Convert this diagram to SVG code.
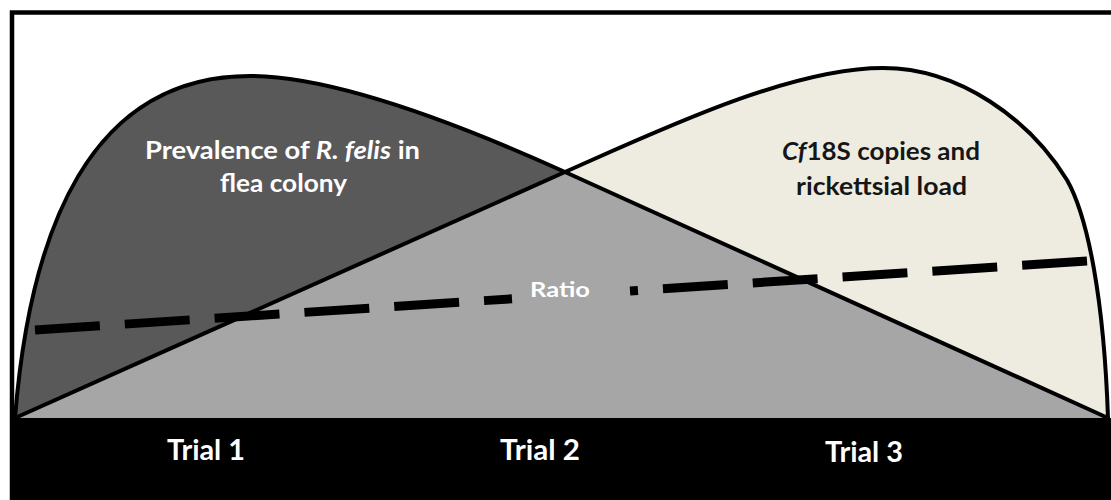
<svg xmlns="http://www.w3.org/2000/svg" width="1111" height="500" viewBox="0 0 1111 500">
  <style>
    .lbl { font-family: Lato, "Open Sans", "Liberation Sans", sans-serif; font-weight: 700; }
    .white { fill: #ffffff; }
    .darktxt { fill: #161616; }
    .outline { fill: none; stroke: #000000; stroke-width: 4; stroke-linejoin: round; }
    .dash { fill: none; stroke: #000000; stroke-width: 9; stroke-dasharray: 65 25; }
  </style>
  <rect x="0" y="0" width="1111" height="500" fill="#ffffff"/>
  <g id="frame">
    <rect x="12" y="12.5" width="1112" height="500" fill="none" stroke="#000000" stroke-width="4.5"/>
  </g>
  <g id="prevalence-area">
    <path d="M15,418 C30,230 90,76 250,76 C330,76 450,120 565,172 L1108,418 Z" fill="#595959"/>
  </g>
  <g id="cf18s-area">
    <path d="M15,418 L565,172 C660,130 790,68 883,68 C960,68 1030,120 1067,180 C1088,217 1104,300 1108,418 Z" fill="#eeece1"/>
  </g>
  <g id="overlap-area">
    <path d="M15,418 L565,172 L1108,418 Z" fill="#a6a6a6"/>
  </g>
  <g id="connectors">
    <path class="outline" d="M15,418 C30,230 90,76 250,76 C330,76 450,120 565,172 L1108,418"/>
    <path class="outline" d="M15,418 L565,172 C660,130 790,68 883,68 C960,68 1030,120 1067,180 C1088,217 1104,300 1108,418"/>
    <path class="dash" d="M35,330 L512,298.8"/>
    <path class="dash" stroke-dashoffset="57" d="M630,291 L1088,261"/>
  </g>
  <g id="axis-bar">
    <rect x="10" y="418" width="1101" height="82" fill="#000000"/>
  </g>
  <g id="label-prevalence">
    <text class="lbl white" font-size="24" x="282.5" y="159" text-anchor="middle" textLength="275" lengthAdjust="spacingAndGlyphs">Prevalence of <tspan font-style="italic">R. felis</tspan> in</text>
    <text class="lbl white" font-size="24" x="283.5" y="192" text-anchor="middle" textLength="127" lengthAdjust="spacingAndGlyphs">flea colony</text>
  </g>
  <g id="label-cf18s">
    <text class="lbl darktxt" font-size="24" x="881" y="160" text-anchor="middle" textLength="198" lengthAdjust="spacingAndGlyphs"><tspan font-style="italic">Cf</tspan>18S copies and</text>
    <text class="lbl darktxt" font-size="24" x="881.5" y="195" text-anchor="middle" textLength="171" lengthAdjust="spacingAndGlyphs">rickettsial load</text>
  </g>
  <g id="label-ratio">
    <text class="lbl white" font-size="21" x="560" y="297" text-anchor="middle" textLength="60" lengthAdjust="spacingAndGlyphs">Ratio</text>
  </g>
  <g id="trial1">
    <text class="lbl white" font-size="29" x="206" y="460" text-anchor="middle" textLength="78" lengthAdjust="spacingAndGlyphs">Trial 1</text>
  </g>
  <g id="trial2">
    <text class="lbl white" font-size="29" x="540" y="460" text-anchor="middle" textLength="80" lengthAdjust="spacingAndGlyphs">Trial 2</text>
  </g>
  <g id="trial3">
    <text class="lbl white" font-size="29" x="864" y="462" text-anchor="middle" textLength="78" lengthAdjust="spacingAndGlyphs">Trial 3</text>
  </g>
</svg>
